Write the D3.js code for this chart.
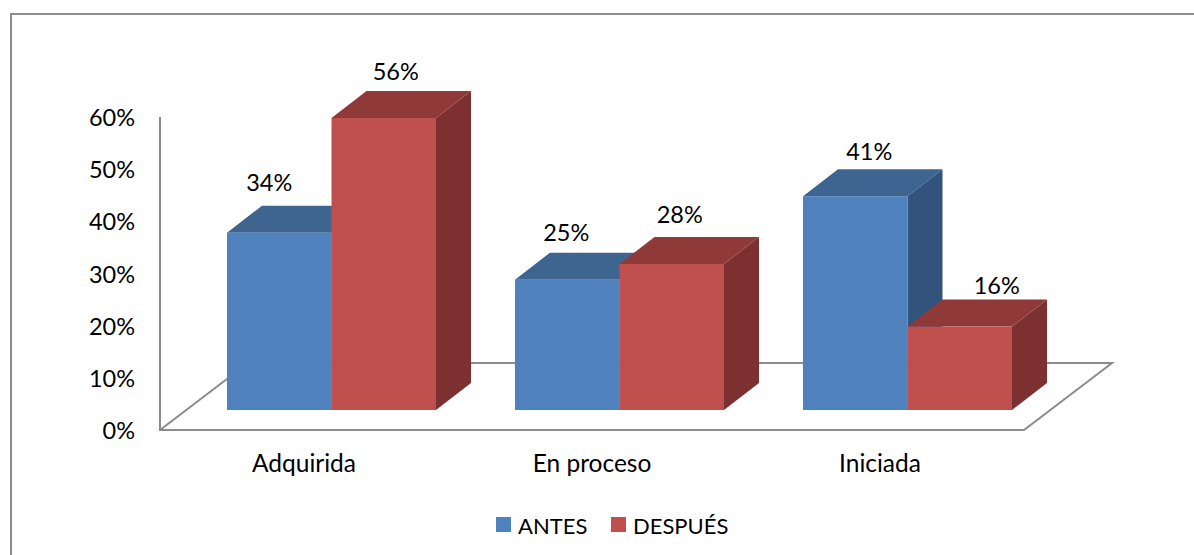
<html>
<head>
<meta charset="utf-8">
<script src="https://d3js.org/d3.v7.min.js"></script>
<style>
body { margin: 0; background: #fff; }
text { font-family: Lato, "Open Sans", sans-serif; fill: #000; font-size: 23.5px; }
.legend text { font-size: 22px; }
.wall { fill: none; stroke: #8c8c8c; stroke-width: 2; }
</style>
</head>
<body>
<svg id="chart" width="1194" height="555"></svg>
<script>
var categories = ["Adquirida", "En proceso", "Iniciada"];
var seriesNames = ["ANTES", "DESPUÉS"];
var antes = [34, 25, 41];
var despues = [56, 28, 16];
var yTicks = [0, 10, 20, 30, 40, 50, 60];

// the data labels were moved by hand in the original, so keep those nudges apart
var labelDx = [[-10, -1, 14], [12, 8, 37]];
var labelDy = [[-51, -48, -45], [-47, -50, -42]];

var colors = {
    ANTES: { front: "#4f81bd", top: "#3e6490", side: "#32547c" },
    "DESPUÉS": { front: "#c0504d", top: "#8f3a38", side: "#7c302f" }
};

var svg = d3.select("#chart");

// floor corners: front edge on the axis, back edge pushed by depth
var left = 160, right = 1024, base = 430, topY = 117;
var depthX = 88, depthY = 67;
var barDepthX = 35, barDepthY = 27;
var floorShiftX = 27.5, floorShiftY = 20;

var x = d3.scaleBand().domain(categories).range([left, right]);
var inner = d3.scaleBand().domain(seriesNames).range([0, 209]);
var groupOffset = (x.bandwidth() - inner.range()[1]) / 2;

var y = d3.scaleLinear().domain([0, 60]).range([base + 1, topY + 1]);
// bars stand further back on the floor, with the scale of the front plane
var barY = d3.scaleLinear().domain([0, 56]).range([base - floorShiftY, 118]);

function barLeft(name, i) {
    return x(categories[i]) + groupOffset + inner(name) + floorShiftX;
}

// chart frame, the right and bottom sides are cut off in the picture
svg.append("path")
    .attr("d", "M11,555V14H1194")
    .attr("fill", "none")
    .attr("stroke", "#8c8c8c")
    .attr("stroke-width", 2);

// floor and wall line
svg.append("path")
    .attr("class", "wall")
    .attr("d", "M" + left + "," + topY + "V" + base + "H" + right +
        "L" + (right + depthX) + "," + (base - depthY) +
        "H" + (left + depthX) + "L" + left + "," + base);

// y axis labels
var yAxis = d3.axisLeft(y)
    .tickValues(yTicks)
    .tickSize(0)
    .tickPadding(25)
    .tickFormat(function(d) { return d + "%"; });
var yg = svg.append("g").attr("transform", "translate(" + left + ",0)").call(yAxis);
yg.select(".domain").remove();
yg.selectAll("text").style("font-family", "Lato").style("font-size", "23.5px");

// x axis labels
var xAxis = d3.axisBottom(x).tickSize(0).tickPadding(25);
var xg = svg.append("g").attr("transform", "translate(0," + base + ")").call(xAxis);
xg.select(".domain").remove();
xg.selectAll("text").style("font-family", "Lato").style("font-size", "24.5px");

// bars, blue before red so that red overlaps
var values = [antes, despues];
seriesNames.forEach(function(name, s) {
    var g = svg.append("g");
    values[s].forEach(function(v, i) {
        var x0 = barLeft(name, i);
        var x1 = x0 + inner.bandwidth();
        var y0 = barY(0), y1 = barY(v);

        g.append("path")
            .attr("fill", colors[name].side)
            .attr("d", d3.line()([[x1, y1], [x1 + barDepthX, y1 - barDepthY],
                [x1 + barDepthX, y0 - barDepthY], [x1, y0]]) + "Z");
        g.append("path")
            .attr("fill", colors[name].top)
            .attr("d", d3.line()([[x0, y1], [x0 + barDepthX, y1 - barDepthY],
                [x1 + barDepthX, y1 - barDepthY], [x1, y1]]) + "Z");
        g.append("rect")
            .attr("x", x0)
            .attr("y", y1)
            .attr("width", x1 - x0)
            .attr("height", y0 - y1)
            .attr("fill", colors[name].front);
    });
});

// value labels go on top of every bar
seriesNames.forEach(function(name, s) {
    svg.append("g").selectAll("text")
        .data(values[s])
        .enter().append("text")
        .attr("text-anchor", "middle")
        .attr("dominant-baseline", "central")
        .attr("x", function(d, i) {
            return barLeft(name, i) + inner.bandwidth() / 2 + labelDx[s][i];
        })
        .attr("y", function(d, i) { return barY(d) + labelDy[s][i]; })
        .text(function(d) { return d + "%"; });
});

// legend
var legendX = [496, 611];
var legend = svg.append("g").attr("class", "legend");
seriesNames.forEach(function(name, s) {
    legend.append("rect")
        .attr("x", legendX[s])
        .attr("y", 517)
        .attr("width", 15)
        .attr("height", 15)
        .attr("fill", colors[name].front);
    legend.append("text")
        .attr("x", legendX[s] + 22)
        .attr("y", 525)
        .attr("dominant-baseline", "central")
        .text(name);
});
</script>
</body>
</html>
